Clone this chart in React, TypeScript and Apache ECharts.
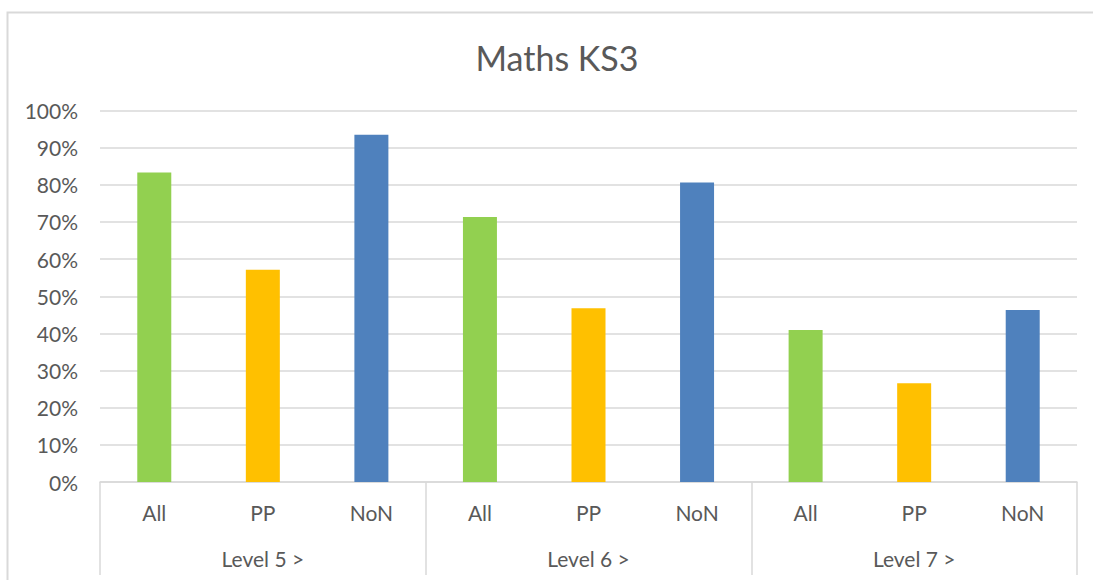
import React, { useEffect, useRef } from "react";
import * as echarts from "echarts";

const titleText = "Maths KS3";
const groups = ["Level 5 >", "Level 6 >", "Level 7 >"];
const subCategories = ["All", "PP", "NoN"];
const allValues = [83.3, 71.3, 40.9];
const ppValues = [57.1, 46.8, 26.6];
const nonValues = [93.5, 80.6, 46.3];
const subColors = ["#92d050", "#ffc000", "#4f81bd"];
const yTicks = [0, 10, 20, 30, 40, 50, 60, 70, 80, 90, 100];

export default function App() {
  const ref = useRef<HTMLDivElement>(null);
  useEffect(() => {
    if (!ref.current) return;
    const chart = echarts.init(ref.current, null, { renderer: "svg" });
    const font = "Lato, 'Open Sans', sans-serif";
    const grey = "#d9d9d9";
    const txt = "#595959";
    const catLabels: string[] = [];
    const data: any[] = [];
    const seriesVals = [allValues, ppValues, nonValues];
    groups.forEach((g, gi) => {
      subCategories.forEach((s, si) => {
        catLabels.push(s);
        data.push({
          value: seriesVals[si][gi],
          itemStyle: { color: subColors[si] },
        });
      });
    });
    chart.setOption({
      animation: false,
      graphic: [
        {
          type: "rect",
          shape: { x: 7.5, y: 12.5, width: 1100, height: 600 },
          style: { fill: "none", stroke: grey, lineWidth: 2 },
          silent: true,
        },
        {
          type: "text",
          x: 557,
          y: 57,
          style: {
            text: titleText,
            fontFamily: font,
            fontSize: 34,
            fill: txt,
            textAlign: "center",
            textVerticalAlign: "middle",
          },
          silent: true,
        },
      ],
      grid: { left: 100, right: 16, top: 110.5, bottom: 98, containLabel: false },
      xAxis: [
        {
          type: "category",
          data: catLabels,
          position: "bottom",
          axisLine: { show: true, lineStyle: { color: grey, width: 1.5 } },
          axisTick: { show: false },
          axisLabel: { interval: 0, margin: 20, fontFamily: font, fontSize: 21, color: txt },
        },
        {
          type: "category",
          data: groups,
          position: "bottom",
          axisLine: { show: false },
          axisTick: { show: true, length: 93, alignWithLabel: false, interval: 0, lineStyle: { color: grey, width: 1.5 } },
          axisLabel: { interval: 0, margin: 66, fontFamily: font, fontSize: 21, color: txt },
        },
      ],
      yAxis: {
        type: "value",
        min: yTicks[0],
        max: yTicks[yTicks.length - 1],
        interval: 10,
        axisLine: { show: false },
        axisTick: { show: false },
        axisLabel: { formatter: "{value}%", margin: 22, fontFamily: font, fontSize: 21, color: txt },
        splitLine: { lineStyle: { color: grey, width: 1.5 } },
      },
      series: [
        {
          type: "bar",
          xAxisIndex: 0,
          data,
          barWidth: 34,
        },
      ],
    });
    return () => chart.dispose();
  }, []);
  return (
    <div
      ref={ref}
      style={{ position: "fixed", left: 0, top: 0, width: 1093, height: 580, background: "#fff" }}
    />
  );
}
